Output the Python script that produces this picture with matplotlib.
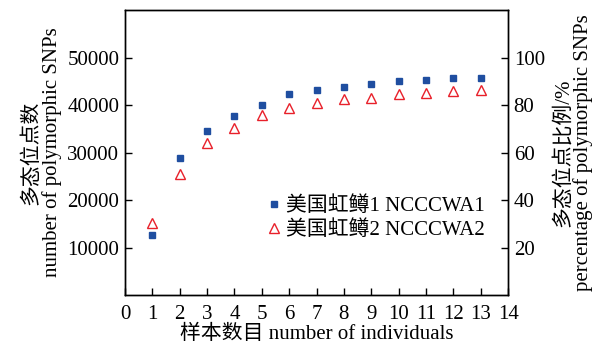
import matplotlib
matplotlib.use("Agg")
import matplotlib.pyplot as plt

plt.rcParams['font.family'] = ['Liberation Serif', 'Noto Sans CJK SC']

individuals = [1, 2, 3, 4, 5, 6, 7, 8, 9, 10, 11, 12, 13]
snp_counts = [12700, 28900, 34500, 37800, 40100, 42400, 43200, 43850, 44500, 45000, 45300, 45600, 45800]
snp_percent = [30.4, 50.9, 63.9, 70.2, 75.9, 78.6, 80.7, 82.4, 83.1, 84.5, 85.1, 85.8, 86.3]
label1 = "美国虹鳟1 NCCCWA1"
label2 = "美国虹鳟2 NCCCWA2"
left_ticks = [10000, 20000, 30000, 40000, 50000]
right_ticks = [20, 40, 60, 80, 100]
x_ticks = list(range(0, 15))

fs = 15
fig = plt.figure(figsize=(5.95, 3.46), dpi=100)
ax = fig.add_axes([0.21, 0.147, 0.644, 0.824])
ax2 = ax.twinx()

h1, = ax.plot(individuals, snp_counts, linestyle='none', marker='s', markersize=4.5,
              color='#1f4ea0', label=label1)
h2, = ax2.plot(individuals, snp_percent, linestyle='none', marker='^', markersize=7,
               markerfacecolor='none', markeredgecolor='#e8202a', markeredgewidth=1.0, label=label2)

ax.set_xlim(0, 14)
ax.set_ylim(0, 60000)
ax2.set_ylim(0, 120)
ax.set_xticks(x_ticks)
ax.set_yticks(left_ticks)
ax2.set_yticks(right_ticks)

for a in (ax, ax2):
    for s in a.spines.values():
        s.set_linewidth(1.0)
ax.tick_params(axis='x', direction='in', length=5, width=1.0, labelsize=fs, top=False, pad=7)
ax.tick_params(axis='y', direction='in', length=5, width=1.0, labelsize=fs, right=False, pad=4)
ax2.tick_params(axis='y', direction='in', length=5, width=1.0, labelsize=fs, pad=4)

ax.set_xlabel("样本数目 number of individuals", fontsize=fs, labelpad=1)
ax.set_ylabel("多态位点数\nnumber of polymorphic SNPs", fontsize=fs, linespacing=1.0, labelpad=4)
ax2.set_ylabel("多态位点比例/%\npercentage of polymorphic SNPs", fontsize=fs, linespacing=1.0, labelpad=6)

ax2.legend(handles=[h1, h2], loc='center left', bbox_to_anchor=(0.345, 0.27), frameon=False,
           fontsize=fs, handlelength=0.8, handletextpad=0.2, borderaxespad=0, labelspacing=0.2)

fig.savefig("out.png", dpi=100)
